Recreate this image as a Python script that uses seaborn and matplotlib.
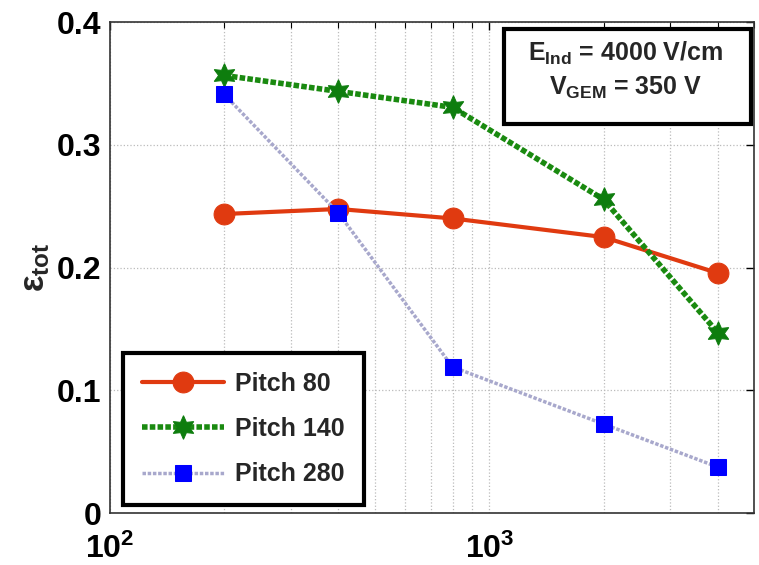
import numpy as np
import pandas as pd
import matplotlib
matplotlib.use("Agg")
import matplotlib.pyplot as plt
from matplotlib.patches import Rectangle
from matplotlib.ticker import LogLocator, FixedLocator, NullFormatter
import seaborn as sns

# data
gem_field = [200, 400, 800, 2000, 4000]
pitch_80 = [0.2436, 0.2477, 0.2400, 0.2248, 0.1955]
pitch_140 = [0.3565, 0.3435, 0.3305, 0.2555, 0.1470]
pitch_280 = [0.3410, 0.2444, 0.1190, 0.0725, 0.0375]
series_names = ["Pitch 80", "Pitch 140", "Pitch 280"]
y_ticks = [0, 0.1, 0.2, 0.3, 0.4]
y_tick_labels = ["0", "0.1", "0.2", "0.3", "0.4"]
x_ticks = [100, 1000]
x_tick_labels = [r"$\mathbf{10^{2}}$", r"$\mathbf{10^{3}}$"]

sns.set_theme(style="white")
plt.rcParams["font.family"] = ["Liberation Sans", "DejaVu Sans"]
plt.rcParams["font.weight"] = "bold"
plt.rcParams["mathtext.fontset"] = "custom"
plt.rcParams["mathtext.rm"] = "Liberation Sans:bold"
plt.rcParams["mathtext.bf"] = "Liberation Sans:bold"
plt.rcParams["mathtext.it"] = "Liberation Sans:bold"

df = pd.DataFrame({
    "field": gem_field * 3,
    "eff": pitch_80 + pitch_140 + pitch_280,
    "pitch": [series_names[0]] * 5 + [series_names[1]] * 5 + [series_names[2]] * 5,
})

fig = plt.figure(figsize=(7.59, 5.65), dpi=100)
ax = fig.add_axes([0.145, 0.092, 0.849, 0.869])

styles = {
    "Pitch 80": dict(color="#e03a10", marker="o", ls="-", lw=3, ms=15),
    "Pitch 140": dict(color="#1a8a10", marker=(6, 1, 0), ls=(0, (1, 0.4)), lw=4, ms=17),
    "Pitch 280": dict(color="#a8a8cc", marker="s", ls=(0, (1, 0.5)), lw=2.5, ms=12),
}
marker_colors = {"Pitch 80": "#e03a10", "Pitch 140": "#0e7d0e", "Pitch 280": "#0000ff"}

for name in series_names:
    st = styles[name]
    sub = df[df["pitch"] == name]
    sns.lineplot(data=sub, x="field", y="eff", ax=ax, label=name,
                 color=st["color"], marker=st["marker"], linestyle=st["ls"],
                 linewidth=st["lw"], markersize=st["ms"],
                 markerfacecolor=marker_colors[name], markeredgecolor=marker_colors[name],
                 sort=False)

ax.set_xscale("log")
ax.set_xlim(100, 5000)
ax.set_ylim(0, 0.4)
ax.xaxis.set_major_locator(FixedLocator(x_ticks))
ax.set_xticklabels(x_tick_labels)
ax.xaxis.set_minor_locator(LogLocator(base=10, subs=np.arange(2, 10), numticks=20))
ax.xaxis.set_minor_formatter(NullFormatter())
ax.set_yticks(y_ticks)
ax.set_yticklabels(y_tick_labels)
ax.tick_params(axis="both", which="both", direction="in", top=True, right=True,
               labelsize=23, colors="black", pad=6)
ax.tick_params(axis="both", which="major", length=6, width=1)
ax.tick_params(axis="x", which="minor", length=4, width=0.8)
ax.tick_params(axis="x", which="major", pad=15)

ax.grid(True, axis="y", which="major", color="#bbbbbb", linestyle=":", linewidth=0.9)
ax.grid(True, axis="x", which="both", color="#bbbbbb", linestyle=":", linewidth=0.9)
for sp in ax.spines.values():
    sp.set_color("#333333")
    sp.set_linewidth(1.2)

ax.set_xlabel("")
ax.set_ylabel(r"$\mathbf{\varepsilon_{tot}}$", fontsize=25, labelpad=4)

leg = ax.legend(loc="lower left", bbox_to_anchor=(0.02, 0.016), borderaxespad=0,
                fontsize=18, handlelength=3.3, borderpad=0.75, labelspacing=0.85,
                fancybox=False, framealpha=1, edgecolor="black", handletextpad=0.45)
leg.get_frame().set_linewidth(3)
for t in leg.get_texts():
    t.set_fontweight("bold")

# annotation box with the run conditions
ax.add_patch(Rectangle((0.611, 0.792), 0.384, 0.194, transform=ax.transAxes,
                       facecolor="white", edgecolor="black", linewidth=3, zorder=5))
ax.text(0.80, 0.922, r"$\mathbf{E_{Ind}}$ = 4000 V/cm", transform=ax.transAxes,
        ha="center", va="baseline", fontsize=18, fontweight="bold", zorder=6)
ax.text(0.80, 0.851, r"$\mathbf{V_{GEM}}$ = 350 V", transform=ax.transAxes,
        ha="center", va="baseline", fontsize=18, fontweight="bold", zorder=6)

fig.savefig("out.png", dpi=100)
